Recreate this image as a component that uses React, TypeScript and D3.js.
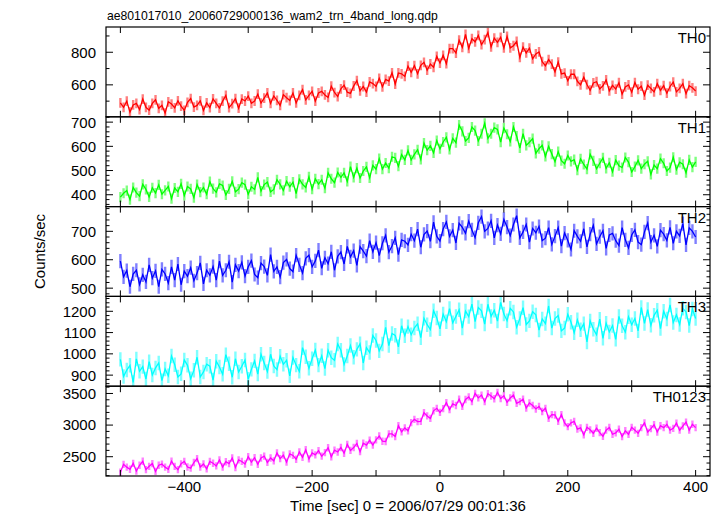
import { useEffect, useRef } from 'react'
import * as d3 from 'd3'

const title = 'ae801017010_20060729000136_wam2_trn_4band_long.qdp'
const xLabel = 'Time [sec] 0 = 2006/07/29 00:01:36'
const yLabel = 'Counts/sec'

const bandNames = ['TH0', 'TH1', 'TH2', 'TH3', 'TH0123']
const bandColors = ['#ff0000', '#00ff00', '#0000ff', '#00ffff', '#ff00ff']

// 5 s bins from -500 to 400
const times = d3.range(-500, 401, 5)

const th0 = [
  490, 462, 500, 433, 477, 486, 448, 513, 462, 445,
  486, 508, 456, 474, 427, 496, 482, 459, 502, 470,
  443, 493, 516, 464, 474, 502, 443, 489, 460, 514,
  487, 458, 500, 535, 460, 485, 515, 457, 513, 501,
  531, 487, 501, 543, 488, 519, 550, 486, 532, 505,
  474, 540, 521, 504, 550, 489, 535, 570, 508, 536,
  560, 500, 550, 560, 538, 523, 592, 553, 528, 576,
  598, 555, 548, 593, 626, 563, 590, 555, 618, 608,
  590, 640, 588, 634, 623, 674, 605, 673, 668, 652,
  715, 677, 718, 668, 720, 738, 690, 728, 708, 775,
  734, 781, 730, 822, 822, 795, 874, 830, 909, 824,
  883, 864, 903, 847, 878, 921, 833, 887, 861, 892,
  827, 897, 827, 840, 866, 769, 831, 796, 825, 760,
  790, 802, 742, 717, 755, 727, 680, 740, 667, 672,
  625, 665, 665, 622, 600, 647, 602, 567, 612, 619,
  575, 594, 630, 563, 597, 574, 613, 543, 587, 600,
  555, 614, 573, 592, 537, 598, 578, 557, 607, 566,
  595, 549, 590, 617, 557, 578, 607, 546, 595, 582,
  562,
]

const th1 = [
  390, 406, 417, 380, 430, 409, 394, 443, 422, 391,
  429, 407, 441, 402, 418, 434, 384, 428, 412, 445,
  397, 434, 424, 388, 442, 411, 430, 402, 454, 425,
  410, 445, 438, 399, 424, 455, 412, 423, 450, 442,
  402, 433, 422, 472, 415, 442, 452, 412, 422, 462,
  443, 418, 456, 433, 452, 405, 464, 443, 430, 474,
  423, 466, 444, 462, 427, 490, 466, 450, 492, 472,
  490, 455, 516, 472, 510, 469, 498, 515, 470, 521,
  506, 549, 506, 531, 510, 557, 552, 518, 566, 544,
  583, 544, 567, 586, 546, 613, 584, 602, 573, 624,
  590, 618, 637, 587, 633, 615, 688, 662, 622, 635,
  680, 665, 622, 652, 695, 633, 652, 677, 670, 617,
  675, 650, 620, 680, 642, 593, 652, 604, 617, 632,
  571, 590, 604, 558, 600, 568, 537, 578, 541, 528,
  562, 538, 545, 502, 548, 525, 506, 567, 540, 507,
  530, 552, 509, 532, 495, 543, 520, 512, 554, 535,
  494, 516, 542, 508, 526, 538, 484, 523, 508, 549,
  530, 498, 512, 555, 504, 534, 526, 491, 544, 514,
  536,
]

const th2 = [
  595, 540, 562, 505, 550, 563, 513, 547, 522, 582,
  535, 561, 505, 566, 550, 518, 575, 528, 585, 512,
  560, 542, 572, 526, 553, 589, 515, 563, 545, 576,
  528, 595, 545, 563, 593, 521, 582, 560, 591, 542,
  575, 597, 548, 537, 588, 576, 545, 618, 559, 575,
  539, 590, 601, 569, 558, 616, 582, 553, 605, 616,
  575, 596, 634, 570, 607, 586, 628, 563, 612, 627,
  585, 647, 610, 632, 580, 646, 630, 613, 667, 628,
  660, 615, 658, 686, 627, 648, 677, 618, 670, 665,
  652, 690, 667, 708, 644, 689, 701, 665, 732, 682,
  666, 708, 733, 682, 704, 659, 728, 714, 693, 736,
  705, 678, 730, 752, 700, 710, 737, 677, 722, 691,
  742, 715, 685, 724, 755, 677, 698, 724, 662, 710,
  695, 717, 667, 676, 713, 654, 683, 713, 648, 694,
  668, 636, 702, 682, 665, 709, 645, 690, 721, 656,
  681, 702, 640, 687, 693, 667, 650, 713, 670, 642,
  687, 705, 662, 653, 698, 729, 662, 686, 647, 704,
  690, 668, 714, 658, 700, 684, 727, 652, 712, 700,
  680,
]

const th3 = [
  974, 894, 924, 946, 866, 976, 918, 940, 882, 963,
  901, 934, 957, 874, 929, 897, 990, 949, 891, 906,
  971, 946, 883, 923, 984, 891, 915, 951, 942, 877,
  965, 938, 904, 996, 953, 890, 977, 915, 942, 971,
  881, 927, 967, 905, 998, 957, 917, 998, 943, 926,
  989, 951, 970, 897, 983, 947, 918, 1029, 986, 932,
  977, 1018, 947, 991, 931, 1017, 982, 970, 1046, 1017,
  950, 990, 1039, 984, 1021, 1047, 957, 1029, 1006, 1086,
  1063, 1014, 1046, 1125, 1039, 1096, 1087, 1033, 1132, 1085,
  1128, 1090, 1122, 1141, 1076, 1167, 1137, 1114, 1203, 1169,
  1118, 1187, 1151, 1213, 1146, 1176, 1207, 1121, 1201, 1175,
  1234, 1152, 1218, 1202, 1140, 1233, 1176, 1205, 1154, 1242,
  1187, 1156, 1214, 1197, 1125, 1166, 1217, 1138, 1155, 1198,
  1183, 1112, 1164, 1142, 1225, 1121, 1166, 1180, 1108, 1121,
  1186, 1149, 1099, 1160, 1113, 1142, 1056, 1155, 1116, 1090,
  1163, 1073, 1144, 1103, 1133, 1068, 1176, 1132, 1102, 1174,
  1137, 1166, 1108, 1218, 1143, 1208, 1134, 1181, 1205, 1119,
  1200, 1164, 1230, 1147, 1183, 1138, 1214, 1197, 1133, 1211,
  1166,
]

const th0123 = [
  2255, 2380, 2335, 2302, 2395, 2273, 2365, 2428, 2295, 2348,
  2390, 2267, 2365, 2383, 2335, 2300, 2430, 2347, 2295, 2388,
  2425, 2337, 2320, 2408, 2470, 2337, 2385, 2308, 2425, 2397,
  2355, 2448, 2337, 2421, 2390, 2480, 2330, 2450, 2425, 2385,
  2500, 2415, 2485, 2380, 2480, 2510, 2410, 2480, 2435, 2560,
  2470, 2525, 2415, 2545, 2520, 2460, 2575, 2490, 2610, 2465,
  2560, 2530, 2595, 2508, 2565, 2642, 2500, 2605, 2575, 2645,
  2555, 2695, 2600, 2645, 2710, 2580, 2715, 2685, 2760, 2683,
  2765, 2827, 2745, 2740, 2860, 2860, 2820, 2990, 2895, 2955,
  2910, 3040, 3090, 3055, 3060, 3195, 3145, 3105, 3225, 3265,
  3200, 3260, 3355, 3245, 3335, 3310, 3410, 3295, 3405, 3445,
  3370, 3500, 3430, 3475, 3370, 3497, 3460, 3417, 3515, 3420,
  3465, 3360, 3430, 3475, 3345, 3370, 3410, 3270, 3350, 3310,
  3255, 3295, 3215, 3265, 3105, 3165, 3160, 3060, 3165, 3035,
  2975, 3035, 3060, 2935, 2955, 2845, 2965, 2925, 2870, 2950,
  2880, 2823, 2920, 2962, 2855, 2877, 2935, 2818, 2910, 2855,
  2965, 2920, 2870, 2960, 3035, 2890, 2945, 3005, 2890, 2990,
  2960, 3013, 2920, 2948, 3030, 2920, 2985, 3047, 2920, 3013,
  2960,
]

const bandValues = [th0, th1, th2, th3, th0123]
const bandErrors = [30, 21, 25, 34, 58]

const xDomain = [-522.5, 422.5]
const xTickValues = [-500, -400, -300, -200, -100, 0, 100, 200, 300, 400]
const xLabelValues = [-400, -200, 0, 200, 400]

const yDomains = [[404, 955], [351, 722], [471, 787], [848, 1270], [2195, 3615]]
const yMajorStep = [200, 100, 100, 100, 500]
const yMinorStep = [100, 20, 20, 20, 100]

const W = 723
const H = 516
const font = '"Liberation Sans", Arial, Helvetica, sans-serif'

export default function App() {
  const svgRef = useRef<SVGSVGElement | null>(null)

  useEffect(() => {
    const svg = d3.select(svgRef.current!)
    svg.selectAll('*').remove()

    const left = 106
    const right = 710
    const top = 27
    const bottom = 476
    const panelH = (bottom - top) / bandNames.length

    const x = d3.scaleLinear().domain(xDomain).range([left, right])

    svg.append('rect').attr('width', W).attr('height', H).attr('fill', '#fff')

    bandNames.forEach((name, k) => {
      const y0 = top + k * panelH
      const y1 = y0 + panelH
      const y = d3.scaleLinear().domain(yDomains[k]).range([y1, y0])
      const vals = bandValues[k]
      const err = bandErrors[k]
      const color = bandColors[k]

      const clipId = 'clip' + k
      svg.append('clipPath').attr('id', clipId)
        .append('rect').attr('x', left).attr('y', y0).attr('width', right - left).attr('height', panelH)

      const g = svg.append('g').attr('clip-path', `url(#${clipId})`)

      // error bars, one bin wide so they merge into a band
      g.append('g').selectAll('line').data(vals).enter().append('line')
        .attr('x1', (d, i) => x(times[i]))
        .attr('x2', (d, i) => x(times[i]))
        .attr('y1', d => y(d - err))
        .attr('y2', d => y(d + err))
        .attr('stroke', color)
        .attr('stroke-opacity', 0.5)
        .attr('stroke-width', 2.4)

      const line = d3.line<number>()
        .x((d, i) => x(times[i]))
        .y(d => y(d))
      g.append('path').datum(vals)
        .attr('d', line)
        .attr('fill', 'none')
        .attr('stroke', color)
        .attr('stroke-width', 1.3)

      // y ticks (left and right)
      const [lo, hi] = yDomains[k]
      const minor = d3.range(Math.ceil(lo / yMinorStep[k]) * yMinorStep[k], hi, yMinorStep[k])
      minor.forEach(v => {
        const isMajor = v % yMajorStep[k] === 0
        const len = isMajor ? 7 : 3.5
        const yy = y(v)
        svg.append('line').attr('x1', left).attr('x2', left + len).attr('y1', yy).attr('y2', yy)
          .attr('stroke', '#000').attr('stroke-width', 1)
        svg.append('line').attr('x1', right).attr('x2', right - len).attr('y1', yy).attr('y2', yy)
          .attr('stroke', '#000').attr('stroke-width', 1)
        if (isMajor) {
          svg.append('text').attr('x', left - 10).attr('y', yy).attr('dy', '0.36em')
            .attr('text-anchor', 'end')
            .attr('font-family', font).attr('font-size', 15)
            .text(String(v))
        }
      })

      // x ticks on top and bottom of each panel
      xTickValues.forEach(t => {
        const xx = x(t)
        svg.append('line').attr('x1', xx).attr('x2', xx).attr('y1', y0).attr('y2', y0 + 6)
          .attr('stroke', '#000').attr('stroke-width', 1)
        svg.append('line').attr('x1', xx).attr('x2', xx).attr('y1', y1).attr('y2', y1 - 6)
          .attr('stroke', '#000').attr('stroke-width', 1)
      })

      svg.append('rect').attr('x', left).attr('y', y0).attr('width', right - left).attr('height', panelH)
        .attr('fill', 'none').attr('stroke', '#000').attr('stroke-width', 1.2)

      svg.append('text').attr('x', 706).attr('y', y0 + 16)
        .attr('text-anchor', 'end')
        .attr('font-family', font).attr('font-size', 15)
        .text(name)
    })

    const fmt = d3.format('')
    xLabelValues.forEach(t => {
      svg.append('text').attr('x', x(t)).attr('y', 492)
        .attr('text-anchor', 'middle')
        .attr('font-family', font).attr('font-size', 15)
        .text(fmt(t))
    })

    svg.append('text').attr('x', 107).attr('y', 19.5)
      .attr('font-family', font).attr('font-size', 12.2)
      .text(title)

    svg.append('text').attr('x', (left + right) / 2).attr('y', 511)
      .attr('text-anchor', 'middle')
      .attr('font-family', font).attr('font-size', 15)
      .text(xLabel)

    svg.append('text')
      .attr('transform', `translate(45,${(top + bottom) / 2}) rotate(-90)`)
      .attr('text-anchor', 'middle')
      .attr('font-family', font).attr('font-size', 15)
      .text(yLabel)
  }, [])

  return (
    <svg ref={svgRef} width={W} height={H}
      style={{ position: 'absolute', left: 0, top: 0, display: 'block' }} />
  )
}
